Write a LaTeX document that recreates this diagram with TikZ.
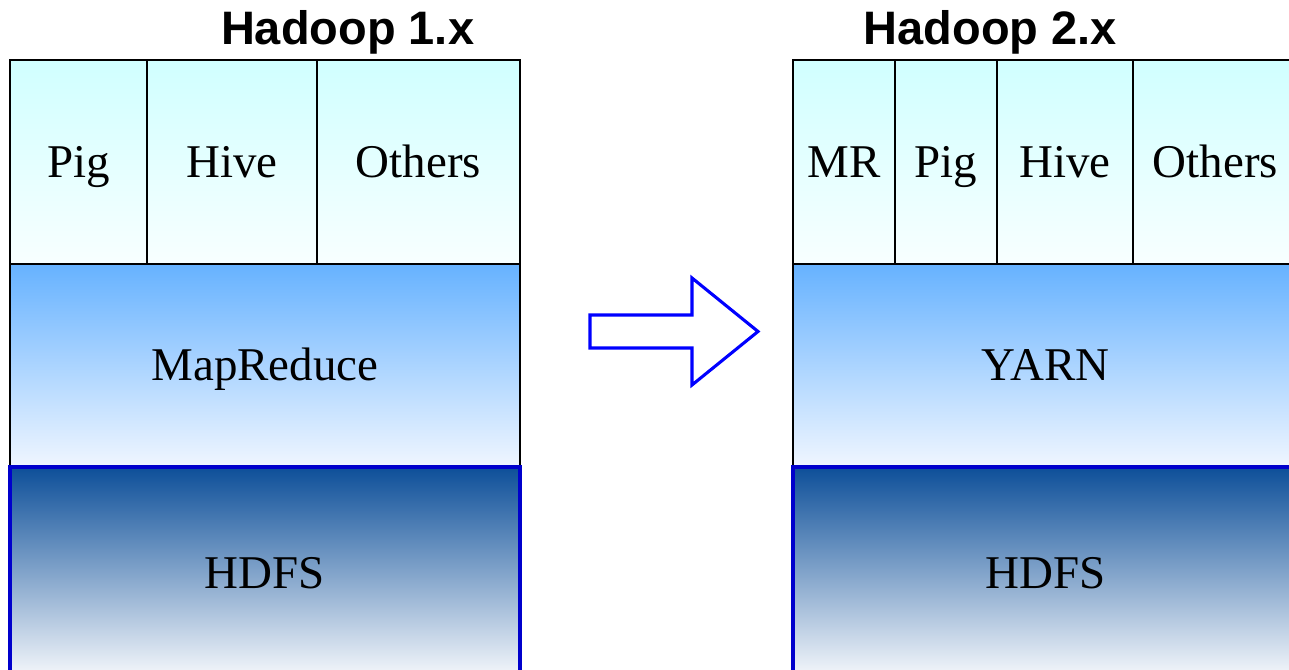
\documentclass[tikz,border=0pt]{standalone}
\usepackage{fontspec}
\setmainfont{Liberation Serif}
\newfontfamily\titlefont{Liberation Sans}
\usetikzlibrary{positioning}

\begin{document}
\begin{tikzpicture}[
  layer/.style={rectangle, draw=black, line width=2pt, inner sep=0pt, outer sep=0pt,
    minimum height=5.1cm, font=\fontsize{33.4}{40}\selectfont,
    text height=28.7pt, text depth=7.3pt},
  appCell/.style={layer, top color=colAppTop, bottom color=colAppBot},
  midCell/.style={layer, minimum height=5.075cm, top color=colMidTop, bottom color=colMidBot},
  fsCell/.style={layer, draw=colFsLine, line width=2.7pt, minimum height=5.3cm,
    top color=colFsTop, bottom color=colFsBot},
  hdTitle/.style={font=\titlefont\bfseries\fontsize{33.4}{40}\selectfont, anchor=base}
]

% Colori dei livelli
\definecolor{colAppTop}{HTML}{D0FFFF}
\definecolor{colAppBot}{HTML}{F8FFFF}
\definecolor{colMidTop}{HTML}{66B2FF}
\definecolor{colMidBot}{HTML}{F0F6FF}
\definecolor{colFsTop}{HTML}{0D4F99}
\definecolor{colFsBot}{HTML}{F7F9FC}
\definecolor{colFsLine}{HTML}{0000CC}
\definecolor{colArrow}{HTML}{0000FF}

% Area visibile
\useasboundingbox (0,0) rectangle (32.225,16.75);
\clip (0,0) rectangle (32.225,16.75);

% Titoli
\node[hdTitle] (title1) at (8.69,15.625) {Hadoop 1.x};
\node[hdTitle] (title2) at (24.76,15.625) {Hadoop 2.x};

% Hadoop 1.x (sinistra)
\node[appCell, minimum width=3.425cm, anchor=north west] (pig1) at (0.25,15.25) {Pig};
\node[appCell, minimum width=4.25cm, right=0pt of pig1] (hive1) {Hive};
\node[appCell, minimum width=5.075cm, right=0pt of hive1] (others1) {Others};
\node[midCell, minimum width=12.75cm, anchor=north west] (mapred) at (pig1.south west) {MapReduce};
\node[fsCell, minimum width=12.75cm, anchor=north west] (hdfs1) at (mapred.south west) {HDFS};

% Hadoop 2.x (destra)
\node[appCell, minimum width=2.55cm, anchor=north west] (mr2) at (19.825,15.25) {MR};
\node[appCell, minimum width=2.55cm, right=0pt of mr2] (pig2) {Pig};
\node[appCell, minimum width=3.4cm, right=0pt of pig2] (hive2) {Hive};
\node[appCell, minimum width=4.125cm, right=0pt of hive2] (others2) {Others};
\node[midCell, minimum width=12.625cm, anchor=north west] (yarn) at (mr2.south west) {YARN};
\node[fsCell, minimum width=12.625cm, anchor=north west] (hdfs2) at (yarn.south west) {HDFS};

% Freccia
\draw[colArrow, fill=white, line width=2.2pt, line join=miter]
  (14.75,8.875) -- (17.3,8.875) -- (17.3,9.8) -- (18.95,8.4625)
  -- (17.3,7.125) -- (17.3,8.05) -- (14.75,8.05) -- cycle;

\end{tikzpicture}
\end{document}
